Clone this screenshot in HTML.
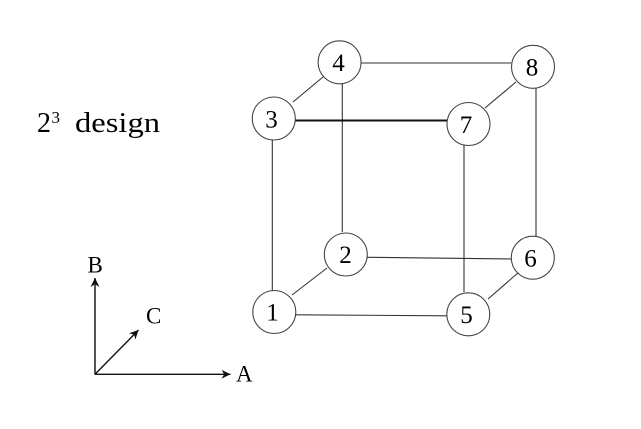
<!DOCTYPE html>
<html>
<head>
<meta charset="utf-8">
<style>
  html, body { margin: 0; padding: 0; background: #ffffff; }
  body { width: 641px; height: 429px; overflow: hidden; font-family: "Liberation Serif", "Times New Roman", Times, serif; }
  svg { display: block; }
  svg text { font-family: "Liberation Serif", "Times New Roman", Times, "Nimbus Roman", "FreeSerif", serif; fill: #000; }
</style>
</head>
<body>
<svg width="641" height="429" viewBox="0 0 641 429" xmlns="http://www.w3.org/2000/svg">
  <defs>
    <marker id="arr" viewBox="0 0 10 10" refX="10" refY="5" markerWidth="9" markerHeight="9" markerUnits="userSpaceOnUse" orient="auto">
      <path d="M0,0 L10,5 L0,10 L3,5 Z" fill="#111"/>
    </marker>
  </defs>
  <rect width="641" height="429" fill="#fff"/>

  <!-- Title -->
  <text x="37" y="132" font-size="29" textLength="14" lengthAdjust="spacingAndGlyphs">2</text>
  <text x="51.5" y="123" font-size="17">3</text>
  <text x="75" y="132" font-size="29" textLength="85" lengthAdjust="spacingAndGlyphs">design</text>

  <!-- Cube edges -->
  <g stroke="#333" stroke-width="1.1" fill="none">
    <line x1="361" y1="63" x2="511" y2="63"/>
    <line x1="367" y1="257.3" x2="511" y2="259"/>
    <line x1="296" y1="314.8" x2="447" y2="315.8"/>
    <line x1="272.3" y1="140" x2="272.3" y2="291"/>
    <line x1="342.3" y1="83" x2="342.3" y2="232"/>
    <line x1="464" y1="145" x2="464" y2="292"/>
    <line x1="536" y1="88" x2="536" y2="236"/>
    <line x1="293" y1="102" x2="323" y2="77"/>
    <line x1="485" y1="108" x2="516" y2="82"/>
    <line x1="292" y1="295" x2="327" y2="268"/>
    <line x1="488" y1="299" x2="519" y2="272"/>
  </g>
  <line x1="295" y1="120.5" x2="447" y2="120.5" stroke="#111" stroke-width="2"/>

  <!-- Nodes -->
  <g stroke="#444" stroke-width="1.1" fill="#fff">
    <circle cx="274.3" cy="312" r="21.5"/>
    <circle cx="345.8" cy="254.5" r="21.5"/>
    <circle cx="273.8" cy="118.5" r="21.5"/>
    <circle cx="339.6" cy="62.3" r="21.5"/>
    <circle cx="468.3" cy="314.3" r="21.5"/>
    <circle cx="532.8" cy="257.7" r="21.5"/>
    <circle cx="468.5" cy="124" r="21.5"/>
    <circle cx="533" cy="66.8" r="21.5"/>
  </g>
  <g font-size="25" text-anchor="middle">
    <text x="272.5" y="320.5">1</text>
    <text x="345.5" y="263">2</text>
    <text x="271.5" y="127.5">3</text>
    <text x="338.5" y="71">4</text>
    <text x="466.5" y="323">5</text>
    <text x="530.5" y="266.5">6</text>
    <text x="466" y="133">7</text>
    <text x="532" y="75.5">8</text>
  </g>

  <!-- Axes -->
  <line x1="95" y1="374.5" x2="95" y2="278" stroke="#555" stroke-width="2" marker-end="url(#arr)"/>
  <line x1="95" y1="374.3" x2="230.5" y2="374.3" stroke="#111" stroke-width="1.4" marker-end="url(#arr)"/>
  <line x1="95" y1="374.3" x2="138.5" y2="330" stroke="#111" stroke-width="1.4" marker-end="url(#arr)"/>
  <g font-size="23">
    <text x="87.5" y="272.3">B</text>
    <text x="146" y="323.3">C</text>
    <text x="236" y="381.7">A</text>
  </g>
</svg>
</body>
</html>
